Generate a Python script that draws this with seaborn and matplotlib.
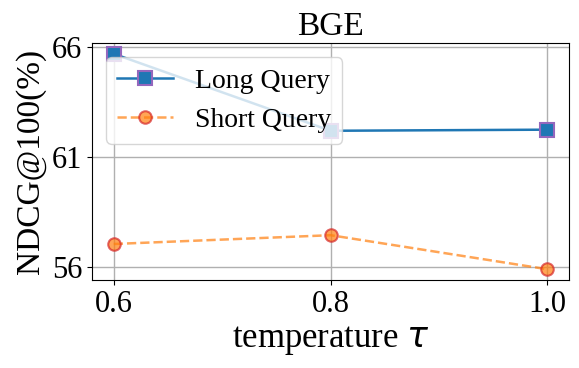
import matplotlib

matplotlib.use("Agg")

import matplotlib.pyplot as plt
import pandas as pd
import seaborn as sns

temperature = [0.6, 0.8, 1.0]
long_query = [65.7, 62.2, 62.25]
short_query = [57.05, 57.45, 55.9]
y_ticks = [56, 61, 66]
x_ticks = [0.6, 0.8, 1.0]

plt.rcParams["font.family"] = ["Liberation Serif", "DejaVu Serif"]

data = pd.DataFrame({"temperature": temperature, "long": long_query, "short": short_query})

figure, axis = plt.subplots(figsize=(5.79, 3.68), dpi=100)
sns.lineplot(data=data, x="temperature", y="long", ax=axis, color="#1f77b4", linestyle="-",
             marker="s", markersize=10, markerfacecolor="#1f77b4", markeredgecolor="#9467bd",
             markeredgewidth=1.5, linewidth=1.8, label="Long Query")
sns.lineplot(data=data, x="temperature", y="short", ax=axis, color="#ff7f0e", alpha=0.7,
             linestyle="--", marker="o", markersize=9, markerfacecolor="#ff7f0e",
             markeredgecolor="#d62728", markeredgewidth=1.5, linewidth=1.8, label="Short Query")

axis.set_xticks(x_ticks)
axis.set_xticklabels([f"{value:.1f}" for value in x_ticks])
axis.set_yticks(y_ticks)
axis.tick_params(labelsize=22)
axis.grid(True, color="#b0b0b0", linewidth=1.0)
axis.set_title("BGE", fontsize=24)
axis.set_xlabel(r"temperature $\tau$", fontsize=25)
axis.set_ylabel("NDCG@100(%)", fontsize=24)
axis.legend(loc="upper left", fontsize=20, framealpha=0.8)

figure.subplots_adjust(left=0.159, right=0.983, top=0.883, bottom=0.239)
figure.savefig("out.png", dpi=100)
plt.close(figure)
